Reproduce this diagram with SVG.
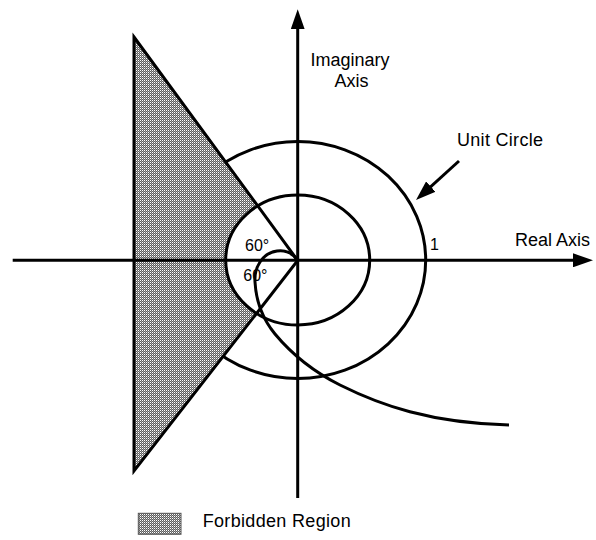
<svg xmlns="http://www.w3.org/2000/svg" width="596" height="540" viewBox="0 0 596 540">
<style>
.ln{fill:none;stroke:#000;stroke-width:3}
.tx{font-family:"Liberation Sans",Arial,sans-serif;font-size:18px;fill:#000}
</style>
<defs>
<pattern id="chk" width="2" height="2" patternUnits="userSpaceOnUse">
<rect width="2" height="2" fill="#5e5e5e"/>
<rect width="1" height="1" fill="#ffffff"/>
<rect x="1" y="1" width="1" height="1" fill="#a0a0a0"/>
</pattern>
<clipPath id="tri"><polygon points="134,37 297.7,260.5 134,471"/></clipPath>
<marker id="ah" viewBox="0 0 20 14" refX="10" refY="7" markerWidth="20" markerHeight="14" markerUnits="userSpaceOnUse" orient="auto">
<path d="M0,0 L20,7 L0,14 z" fill="#000"/>
</marker>
</defs>
<rect width="596" height="540" fill="#fff"/>
<g id="unit-circle"><ellipse class="ln" cx="297.7" cy="260" rx="128" ry="118.5"/></g>
<g id="forbidden-region">
<path clip-path="url(#tri)" fill="url(#chk)" fill-rule="evenodd" d="M134,37 L297.7,260.5 L134,471 Z M225.7,260 a72,65 0 1,0 144,0 a72,65 0 1,0 -144,0 Z"/>
<polygon class="ln" points="134,37 297.7,260.5 134,471"/>
</g>
<g id="inner-circle"><ellipse class="ln" cx="297.7" cy="260" rx="72" ry="65"/></g>
<g id="connectors">
<line class="ln" x1="12.7" y1="260.3" x2="583" y2="260.3" marker-end="url(#ah)"/>
<line class="ln" x1="297.7" y1="498" x2="297.7" y2="19.3" marker-end="url(#ah)"/>
<line class="ln" x1="459" y1="161" x2="423.4" y2="193.3" marker-end="url(#ah)"/>
<path class="ln" d="M297.7,260.5 C292,252 284,250 277,251 C262,253 254,268 255,282 C256,300 262,318 275,334 C290,352 310,370 340,385 C380,405 430,423 509,425"/>
</g>
<g id="labels">
<text class="tx" x="350" y="66" text-anchor="middle">Imaginary</text>
<text class="tx" x="351.5" y="87" text-anchor="middle">Axis</text>
<text class="tx" x="457" y="146" textLength="86">Unit Circle</text>
<text class="tx" x="515" y="246">Real Axis</text>
<text class="tx" x="430" y="250" style="font-size:16px">1</text>
<text class="tx" x="245" y="251" style="font-size:16px">60°</text>
<text class="tx" x="243.3" y="281" style="font-size:16px">60°</text>
</g>
<g id="legend">
<rect x="138.3" y="513.3" width="42.7" height="21" fill="url(#chk)" stroke="#555" stroke-width="1"/>
<text class="tx" x="202.7" y="527" textLength="148">Forbidden Region</text>
</g>
</svg>
